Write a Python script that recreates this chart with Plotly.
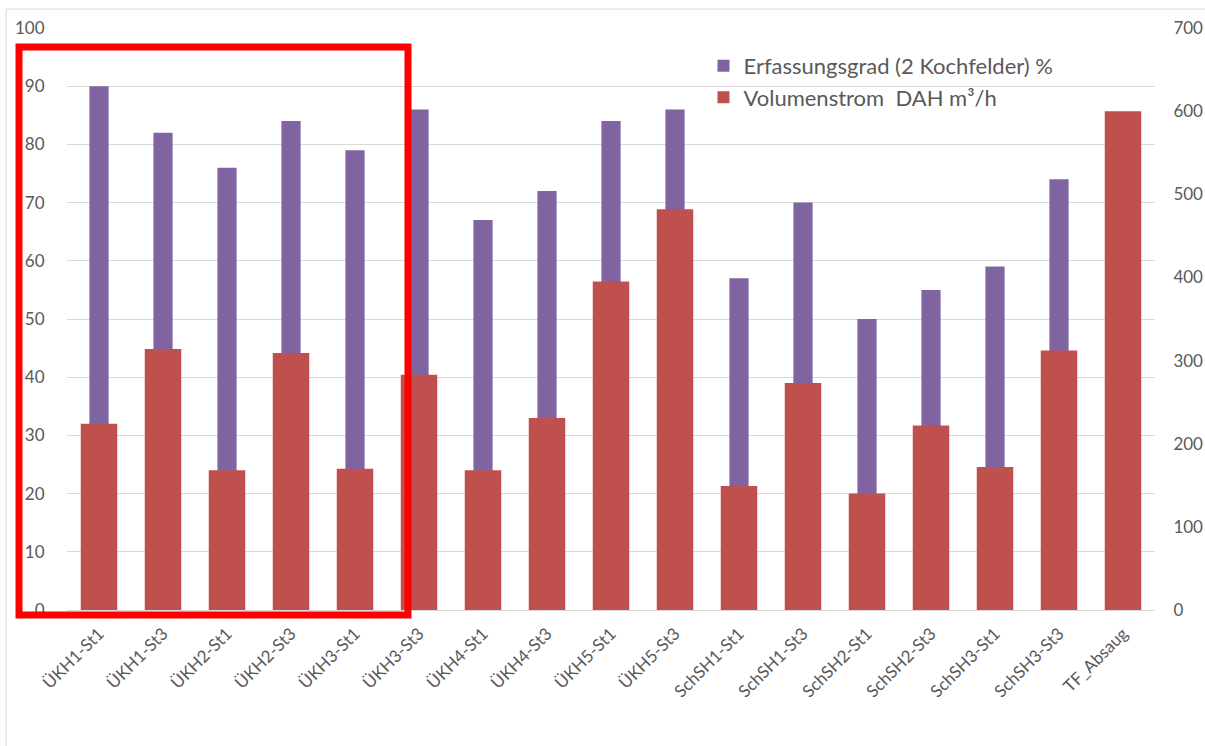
import plotly.graph_objects as go

categories = ["ÜKH1-St1", "ÜKH1-St3", "ÜKH2-St1", "ÜKH2-St3", "ÜKH3-St1", "ÜKH3-St3",
              "ÜKH4-St1", "ÜKH4-St3", "ÜKH5-St1", "ÜKH5-St3", "SchSH1-St1", "SchSH1-St3",
              "SchSH2-St1", "SchSH2-St3", "SchSH3-St1", "SchSH3-St3", "TF_Absaug"]
erfassungsgrad = [90, 82, 76, 84, 79, 86, 67, 72, 84, 86, 57, 70, 50, 55, 59, 74, None]
volumenstrom = [224, 314, 168, 309, 170, 283, 168, 231, 395, 482, 149, 273, 140, 222, 172, 312, 600]

FONT = "Lato, 'Open Sans', sans-serif"
TXT = "#595959"
GRID = "#d9d9d9"

fig = go.Figure()
fig.add_trace(go.Bar(x=categories, y=erfassungsgrad, name="Erfassungsgrad (2 Kochfelder) %",
                     marker=dict(color="#8064a2", line=dict(width=0)), width=0.3,
                     yaxis="y", legendgroup="a"))
fig.add_trace(go.Bar(x=categories, y=volumenstrom, name="Volumenstrom  DAH m³/h",
                     marker=dict(color="#c0504d", line=dict(width=0)), width=0.57,
                     yaxis="y2", legendgroup="b"))

fig.update_layout(
    width=1205, height=746,
    margin=dict(l=67, r=50, t=28, b=136, autoexpand=False),
    paper_bgcolor="white", plot_bgcolor="white",
    barmode="overlay",
    font=dict(family=FONT, color=TXT, size=17),
    xaxis=dict(tickangle=-45, tickfont=dict(size=17, color=TXT), showgrid=False,
               showline=True, linecolor=GRID, linewidth=1,
               ticks="outside", ticklen=6, tickcolor="rgba(0,0,0,0)", range=[-0.5, 16.5]),
    yaxis=dict(range=[0, 100], dtick=10, showgrid=True, gridcolor=GRID, gridwidth=1,
               zeroline=False, showline=False, ticks="outside", ticklen=18,
               tickcolor="rgba(0,0,0,0)", tickfont=dict(size=17, color=TXT)),
    yaxis2=dict(range=[0, 700], dtick=100, overlaying="y", side="right", showgrid=False,
                zeroline=False, showline=False, ticks="outside", ticklen=14,
                tickcolor="rgba(0,0,0,0)", tickfont=dict(size=17, color=TXT)),
    legend=dict(x=0.585, y=0.971, xanchor="left", yanchor="top", bgcolor="rgba(0,0,0,0)",
                font=dict(size=22, color=TXT), tracegroupgap=30, traceorder="normal"),
    showlegend=True,
    shapes=[
        dict(type="rect", xref="paper", yref="paper", x0=-0.056, x1=1.2, y0=-0.4, y1=1.0326,
             line=dict(color=GRID, width=1), fillcolor="rgba(0,0,0,0)", layer="below"),
        dict(type="rect", xref="paper", yref="paper", x0=-0.0441, x1=0.3134, y0=-0.0086, y1=0.9674,
             line=dict(color="#ff0000", width=7), fillcolor="rgba(0,0,0,0)", layer="above"),
    ],
)

fig.write_html("out.html", config={"displayModeBar": False},
               post_script="document.body.style.margin='0';document.body.style.overflow='hidden';")
